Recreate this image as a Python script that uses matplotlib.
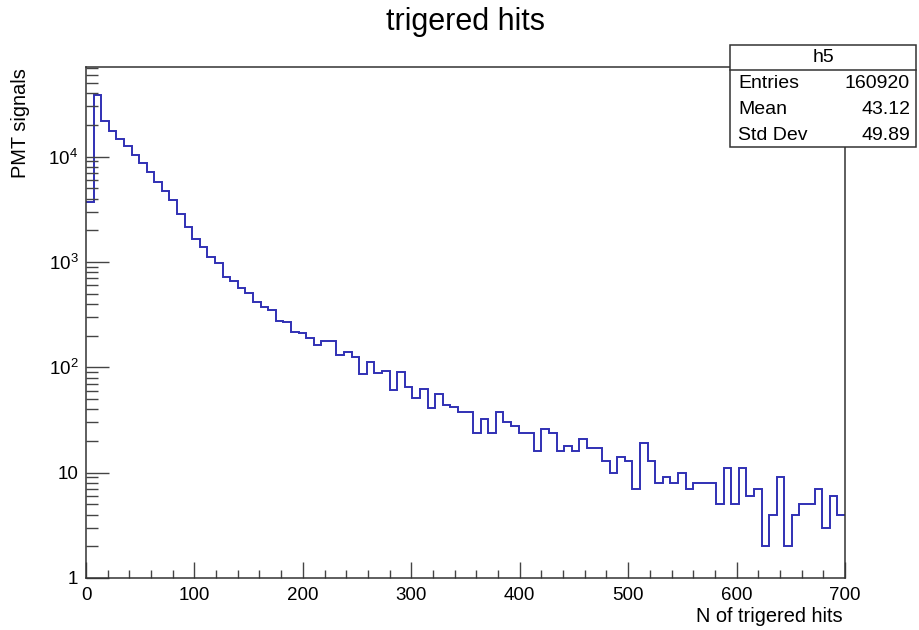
import numpy as np
import matplotlib.pyplot as plt
from matplotlib.patches import Rectangle
from matplotlib.lines import Line2D
from matplotlib.ticker import MultipleLocator, LogLocator, NullFormatter, FuncFormatter

plt.rcParams['font.family'] = ['Liberation Sans', 'DejaVu Sans']
plt.rcParams['mathtext.default'] = 'regular'

# histogram h5: 100 bins, width 7, from 0 to 700
bin_edges = np.arange(0, 701, 7)
counts = [
    3750, 38600, 21600, 17700, 14700, 12500, 10400, 8800, 7220, 5800,
    4740, 3890, 2870, 2170, 1655, 1380, 1125, 986, 726, 665,
    571, 506, 421, 377, 351, 278, 272, 218, 214, 189,
    163, 179, 179, 131, 141, 125, 86, 112, 89, 93,
    61, 91, 65, 51, 62, 41, 56, 44, 42, 38,
    38, 24, 32, 24, 38, 30, 28, 24, 24, 16,
    26, 24, 16, 18, 16, 21, 17, 17, 13, 10,
    14, 13, 7, 19, 13, 8, 9, 8, 10, 7,
    8, 8, 8, 5, 11, 5, 11, 6, 7, 2,
    4, 9, 2, 4, 5, 5, 7, 3, 6, 4,
]

# stats box
stat_names = ["Entries", "Mean", "Std Dev"]
stat_values = ["160920", "43.12", "49.89"]

W, H = 919, 630
fig = plt.figure(figsize=(W / 100, H / 100), dpi=100)


def fx(px):
    return px / W


def fy(py):
    return 1 - py / H


ax = fig.add_axes([fx(86), fy(578), (845 - 86) / W, (578 - 67) / H])
ax.stairs(counts, bin_edges, baseline=None, color='#3030b4', linewidth=1.4)

ax.set_xlim(0, 700)
ax.set_yscale('log')
ax.set_ylim(1, 7.1e4)

ax.xaxis.set_major_locator(MultipleLocator(100))
ax.xaxis.set_minor_locator(MultipleLocator(20))
ax.yaxis.set_major_locator(LogLocator(base=10))
ax.yaxis.set_minor_locator(LogLocator(base=10, subs=range(2, 10)))
ax.yaxis.set_minor_formatter(NullFormatter())


def etiqueta_y(v, pos):
    k = int(round(np.log10(v)))
    if k == 0:
        return "1"
    if k == 1:
        return "10"
    return "10$^{%d}$" % k


ax.yaxis.set_major_formatter(FuncFormatter(etiqueta_y))

ax.tick_params(which='both', direction='in', top=False, right=False,
               width=1.0, color='#444444', labelsize=13.5)
ax.tick_params(axis='x', which='major', length=11.3, pad=6.5)
ax.tick_params(axis='x', which='minor', length=5.8)
ax.tick_params(axis='y', which='major', length=16.5, pad=5.5)
ax.tick_params(axis='y', which='minor', length=8.4)
for s in ax.spines.values():
    s.set_linewidth(1.1)
    s.set_color('#333333')

# titulos
fig.text(fx(466), fy(22), "trigered hits", ha='center', va='center', fontsize=22)
fig.text(fx(843), fy(617), "N of trigered hits", ha='right', va='center', fontsize=14.4)
fig.text(fx(21), fy(68), "PMT signals", ha='center', va='top', rotation=90, fontsize=14.4)

# caixa de estatisticas
bx0, bx1, by0, by1 = 730, 916, 45, 147
fig.add_artist(Rectangle((fx(bx0), fy(by1)), (bx1 - bx0) / W, (by1 - by0) / H,
                         transform=fig.transFigure, facecolor='white',
                         edgecolor='#333333', linewidth=1.1, zorder=10))
fig.add_artist(Line2D([fx(bx0), fx(bx1)], [fy(70), fy(70)], transform=fig.transFigure,
                      color='#333333', linewidth=1.1, zorder=11))
fig.text(fx((bx0 + bx1) / 2), fy(57.5), "h5", ha='center', va='center', fontsize=14, zorder=12)
for i, (nome, valor) in enumerate(zip(stat_names, stat_values)):
    yy = fy(84 + 25.5 * i)
    fig.text(fx(738), yy, nome, ha='left', va='center', fontsize=14, zorder=12)
    fig.text(fx(910), yy, valor, ha='right', va='center', fontsize=14, zorder=12)

fig.savefig("out.png", dpi=100)
